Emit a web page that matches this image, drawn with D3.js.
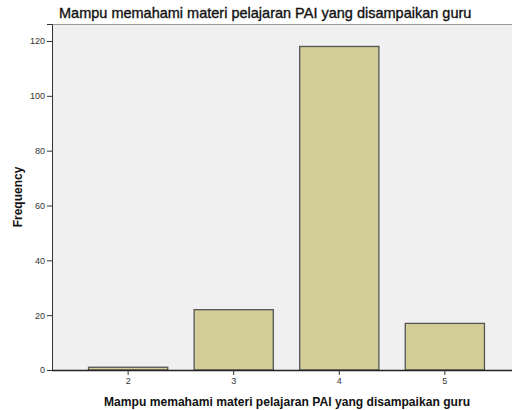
<!DOCTYPE html>
<html><head><meta charset="utf-8">
<script src="https://cdn.jsdelivr.net/npm/d3@7"></script>
<style>body{margin:0;background:#fff;}svg{display:block;font-family:"Liberation Sans",Arial,sans-serif;}</style>
</head><body>
<svg id="c" width="512" height="410"></svg>
<script>
const categories = ["2","3","4","5"];
const frequencies = [1,22,118,17];
const yTicks = [0,20,40,60,80,100,120];
const title = "Mampu memahami materi pelajaran PAI yang disampaikan guru";
const xTitle = "Mampu memahami materi pelajaran PAI yang disampaikan guru";
const yTitle = "Frequency";

const svg = d3.select("#c");
const L = 52, T = 24, B = 370, R = 521;
const x = d3.scaleBand().domain(categories).range([L, R]).paddingInner(0.25).paddingOuter(0.346);
const y = d3.scaleLinear().domain([0, 126.2]).range([B, T]);

svg.append("rect").attr("x", L).attr("y", T).attr("width", 512 - L).attr("height", B - T).attr("fill", "#f0f0f0");
svg.append("line").attr("x1", L).attr("x2", 512).attr("y1", T + 0.5).attr("y2", T + 0.5).attr("stroke", "#999");

svg.append("g").selectAll("rect").data(frequencies).join("rect")
  .attr("x", (d, i) => x(categories[i]))
  .attr("y", d => y(d))
  .attr("width", x.bandwidth())
  .attr("height", d => B - y(d))
  .attr("fill", "#d3ce97")
  .attr("stroke", "#555")
  .attr("stroke-width", 1.3);

const ya = svg.append("g").attr("transform", `translate(${L},0)`)
  .call(d3.axisLeft(y).tickValues(yTicks).tickSize(5).tickPadding(2));
ya.select(".domain").attr("stroke", "#333");
ya.selectAll(".tick line").attr("stroke", "#333");
ya.selectAll("text").attr("font-size", 9).attr("fill", "#333").attr("font-family", "Liberation Sans, Arial, sans-serif");

const xa = svg.append("g").attr("transform", `translate(0,${B})`)
  .call(d3.axisBottom(x).tickSize(5).tickPadding(3).tickSizeOuter(0));
xa.select(".domain").attr("stroke", "#222").attr("stroke-width", 1.3).attr("d", `M${L},0.5H512`);
xa.selectAll(".tick line").attr("stroke", "#333");
xa.selectAll("text").attr("font-size", 9).attr("fill", "#333").attr("font-family", "Liberation Sans, Arial, sans-serif");

svg.append("text").attr("x", 59).attr("y", 18).attr("font-size", 14.5).attr("fill", "#111")
  .attr("stroke", "#111").attr("stroke-width", 0.35).text(title);
svg.append("text").attr("x", 287).attr("y", 406).attr("text-anchor", "middle").attr("font-size", 12.1).attr("font-weight", "bold").attr("fill", "#111").text(xTitle);
svg.append("text").attr("transform", "translate(22,197) rotate(-90)").attr("text-anchor", "middle").attr("font-size", 12).attr("font-weight", "bold").attr("fill", "#111").text(yTitle);
</script>
</body></html>
